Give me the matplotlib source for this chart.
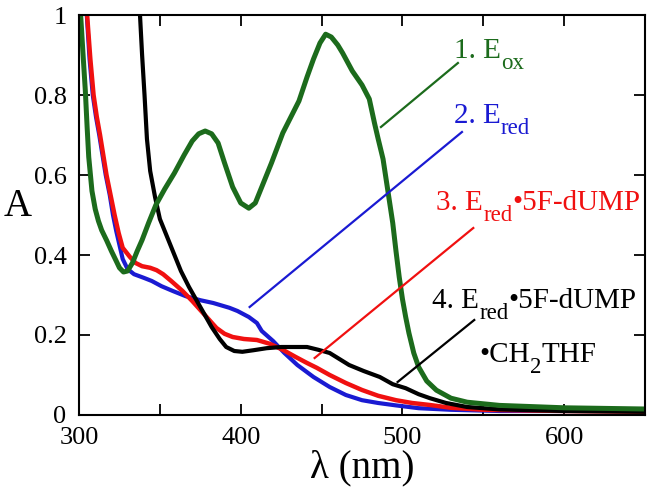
import numpy as np
import matplotlib.pyplot as plt

plt.rcParams['font.family'] = ['Liberation Serif', 'DejaVu Serif']

# ---- spectra (wavelength nm, absorbance) ----
wl_ox = [301, 302.5, 303.9, 305, 306, 308, 310, 312, 314, 317, 320, 323, 325, 327.5, 330,
         333, 336, 339, 343, 347.5, 353, 359, 365, 370, 374, 378, 382, 386, 390, 395, 400, 405,
         409, 414, 419, 426, 431, 436, 441, 445, 449, 452.5, 456, 460, 463, 469, 475, 479.5,
         482.7, 485, 488, 491, 494, 496, 498, 500, 502, 504, 507, 510, 515, 521, 530, 540, 560,
         600, 650]
a_ox = [1.0, 0.9, 0.81, 0.72, 0.645, 0.56, 0.515, 0.485, 0.462, 0.437, 0.41, 0.385, 0.368,
        0.3575, 0.36, 0.38, 0.41, 0.4375, 0.48, 0.525, 0.565, 0.605, 0.65, 0.685, 0.703, 0.71,
        0.703, 0.68, 0.63, 0.57, 0.53, 0.517, 0.53, 0.58, 0.63, 0.705, 0.745, 0.785, 0.845,
        0.89, 0.93, 0.952, 0.945, 0.925, 0.905, 0.86, 0.825, 0.79, 0.73, 0.69, 0.64, 0.56, 0.48,
        0.41, 0.345, 0.29, 0.245, 0.205, 0.155, 0.12, 0.085, 0.062, 0.042, 0.032, 0.024, 0.018,
        0.015]

wl_red = [304.8, 306.5, 308.5, 310.5, 312.5, 314.5, 316.5, 319, 321, 323, 325, 327, 330, 334,
          340, 345, 351, 358, 366, 375, 383, 393, 398, 405, 410, 413, 420, 427, 435, 445, 455,
          465, 475, 485, 496, 510, 530, 560, 650]
a_red = [1.0, 0.89, 0.8, 0.745, 0.7, 0.65, 0.6, 0.55, 0.5, 0.46, 0.425, 0.39, 0.365, 0.352,
         0.343, 0.335, 0.322, 0.31, 0.297, 0.287, 0.28, 0.268, 0.26, 0.245, 0.23, 0.21, 0.185,
         0.155, 0.125, 0.095, 0.07, 0.05, 0.037, 0.03, 0.024, 0.017, 0.013, 0.01, 0.01]

wl_fdump = [305, 307, 309, 311, 313, 315, 317, 319.5, 322, 324.5, 327, 331.5, 335, 339, 344,
            348, 352, 357, 364, 370, 375, 380, 385, 390, 395, 402, 410, 418, 426, 434, 441, 447,
            455, 465, 475, 485, 496, 506, 517, 530, 550, 600, 650]
a_fdump = [1.0, 0.89, 0.8, 0.745, 0.7, 0.65, 0.6, 0.55, 0.5, 0.455, 0.418, 0.395, 0.38, 0.372,
           0.368, 0.362, 0.352, 0.335, 0.31, 0.285, 0.2625, 0.24, 0.2175, 0.203, 0.195, 0.19,
           0.1875, 0.178, 0.163, 0.145, 0.13, 0.118, 0.1, 0.08, 0.0625, 0.048, 0.037, 0.03,
           0.025, 0.018, 0.013, 0.01, 0.008]

wl_thf = [337.7, 339, 340.5, 342, 344, 347, 350, 355, 360, 363, 368, 375, 382, 387, 391, 396,
          401, 408, 416, 425, 433, 441, 448, 455, 461, 467, 476, 486, 494, 502, 510, 517, 527,
          540, 560, 600, 650]
a_thf = [1.0, 0.9, 0.8, 0.69, 0.61, 0.545, 0.49, 0.44, 0.39, 0.36, 0.32, 0.27, 0.22, 0.19, 0.17,
         0.16, 0.158, 0.162, 0.167, 0.17, 0.17, 0.17, 0.163, 0.155, 0.14, 0.125, 0.11, 0.095,
         0.077, 0.067, 0.052, 0.042, 0.03, 0.02, 0.014, 0.01, 0.008]

green = '#1c6b1c'
blue = '#1a1ad2'
red = '#f01010'

fig = plt.figure(figsize=(6.51, 4.97), dpi=100)
ax = fig.add_axes([0.1214, 0.165, 0.8694, 0.8048])

kw = dict(solid_joinstyle='round', solid_capstyle='round')
ax.plot(wl_red, a_red, color=blue, lw=3.0, **kw)
ax.plot(wl_fdump, a_fdump, color=red, lw=3.2, **kw)
ax.plot(wl_thf, a_thf, color='black', lw=3.0, **kw)
ax.plot(wl_ox, a_ox, color=green, lw=3.6, **kw)

# label leader lines
ax.plot([486.7, 534.3], [0.72, 0.88], color=green, lw=1.6)
ax.plot([405.5, 536.8], [0.27, 0.7075], color=blue, lw=1.6)
ax.plot([445.7, 543.8], [0.1425, 0.4675], color=red, lw=1.6)
ax.plot([497, 544.4], [0.0825, 0.2375], color='black', lw=1.6)

fs, fs_sub, drop = 21, 16.5, -7.5


def label(x, y, pieces, color):
    # pieces: (text, is_subscript); each piece is chained to the right of the previous one
    prev = ax.text(x, y, pieces[0][0], color=color, fontsize=fs)
    prev_sub = False
    for s, sub in pieces[1:]:
        if sub:
            dy = 0 if prev_sub else drop
        else:
            dy = -drop if prev_sub else 0
        prev = ax.annotate(s, xy=(1, 0), xycoords=prev, xytext=(0, dy),
                           textcoords='offset points', color=color,
                           fontsize=fs_sub if sub else fs, va='bottom')
        prev_sub = sub


label(532, 0.8925, [('1. E', False), ('ox', True)], green)
label(532, 0.73, [('2. E', False), ('red', True)], blue)
label(521, 0.5125, [('3. E', False), ('red', True), ('•5F-dUMP', False)], red)
label(518.5, 0.2675, [('4. E', False), ('red', True), ('•5F-dUMP', False)], 'black')
label(547.5, 0.1325, [('•CH', False), ('2', True), ('THF', False)], 'black')

ax.set_xlim(300, 650)
ax.set_ylim(0, 1)
ax.set_xticks([300, 400, 500, 600])
ax.set_xticks([350, 450, 550], minor=True)
ax.set_yticks([0, 0.2, 0.4, 0.6, 0.8, 1.0])
ax.set_yticklabels(['0', '0.2', '0.4', '0.6', '0.8', '1'])
ax.tick_params(which='both', direction='in', top=True, right=True, length=8, width=1.3,
               labelsize=19, pad=9)
for s in ax.spines.values():
    s.set_linewidth(1.5)

ax.set_xlabel('λ (nm)', fontsize=28, labelpad=0)
fig.text(18 / 651, 1 - 207 / 497, 'A', fontsize=28, ha='center', va='center')

fig.savefig('out.png', dpi=100)
